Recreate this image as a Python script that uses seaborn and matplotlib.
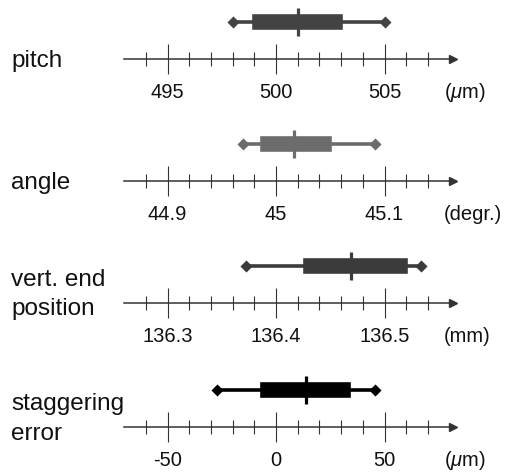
import numpy as np
import matplotlib
matplotlib.use("Agg")
import matplotlib.pyplot as plt
import seaborn as sns

# five-number summaries: whisker min, q1, median, q3, whisker max
pitch_vals = [498.0, 499.0, 501.0, 503.0, 505.0]
angle_vals = [44.970, 44.987, 45.017, 45.050, 45.091]
vert_vals = [136.372, 136.427, 136.469, 136.520, 136.534]
stagger_vals = [-27.0, -6.5, 14.0, 33.5, 45.5]

# axis labelling
major_ticks = [[495, 500, 505], [44.9, 45.0, 45.1], [136.3, 136.4, 136.5], [-50, 0, 50]]
tick_labels = [["495", "500", "505"], ["44.9", "45", "45.1"],
               ["136.3", "136.4", "136.5"], ["-50", "0", "50"]]
units = [r"($\mu$m)", "(degr.)", "(mm)", r"($\mu$m)"]
names = [["pitch"], ["angle"], ["vert. end", "position"], ["staggering", "error"]]

box_colors = ["#434343", "#6c6c6c", "#3b3b3b", "#000000"]
all_vals = [pitch_vals, angle_vals, vert_vals, stagger_vals]

sns.set_style("white")
plt.rcParams["font.family"] = ["Liberation Sans", "DejaVu Sans"]
plt.rcParams["mathtext.fontset"] = "custom"
plt.rcParams["mathtext.rm"] = "Liberation Sans"
plt.rcParams["mathtext.it"] = "Liberation Sans:italic"

W, H = 516, 474
fig = plt.figure(figsize=(W / 100, H / 100), dpi=100)

axis_px = [59, 181, 302.5, 427]      # vertical pixel position of each number line
name_base = [[66.5], [188.5], [286.5, 315], [410, 440]]
off = -37                            # number line sits this far below the box (px units)

for i in range(4):
    vals = all_vals[i]
    c = box_colors[i]
    a = axis_px[i]
    ax = fig.add_axes([124 / W, 1 - (a + 15) / H, 329 / W, 70 / H])

    sns.boxplot(x=vals, ax=ax, whis=(0, 100), width=12, color=c, linecolor=c,
                linewidth=2.6, showcaps=False, fliersize=0)
    sns.scatterplot(x=[vals[0], vals[-1]], y=[0, 0], marker="D", s=38, color=c,
                    linewidth=0, ax=ax, legend=False, zorder=5)
    ax.plot([vals[2]], [0], marker="|", ms=20.5, mew=2.3, color=c, zorder=6)

    # axis range: 5 minor steps per major step
    step = major_ticks[i][1] - major_ticks[i][0]
    mid = major_ticks[i][1]
    ax.set_xlim(mid - 1.401 * step, mid + 1.631 * step)
    ax.set_ylim(-52, 18)
    ax.set_xticks(major_ticks[i], tick_labels[i])
    ax.set_xticks(np.linspace(mid - 1.2 * step, mid + 1.4 * step, 14), minor=True)

    for s in ["top", "left", "right"]:
        ax.spines[s].set_visible(False)
    ax.spines["bottom"].set_position(("data", off))
    ax.spines["bottom"].set_color("#333333")
    ax.spines["bottom"].set_linewidth(1.1)
    ax.yaxis.set_visible(False)
    ax.set_xlabel("")
    ax.patch.set_alpha(0)
    ax.tick_params(axis="x", which="major", bottom=True, direction="inout", length=20.9,
                   width=0.8, color="#333333", pad=7, labelsize=14.5, labelcolor="#111111")
    ax.tick_params(axis="x", which="minor", bottom=True, direction="inout", length=9.7,
                   width=0.8, color="#333333")
    ax.plot(1, off, marker=">", ms=6, color="#333333",
            transform=ax.get_yaxis_transform(), clip_on=False)

    fig.text(444 / W, 1 - (a + 39) / H, units[i], fontsize=14.5, color="#111111",
             va="baseline", ha="left")
    for line, yb in zip(names[i], name_base[i]):
        fig.text(11 / W, 1 - yb / H, line, fontsize=17.5, color="#111111",
                 va="baseline", ha="left")

fig.savefig("out.png", dpi=100)
